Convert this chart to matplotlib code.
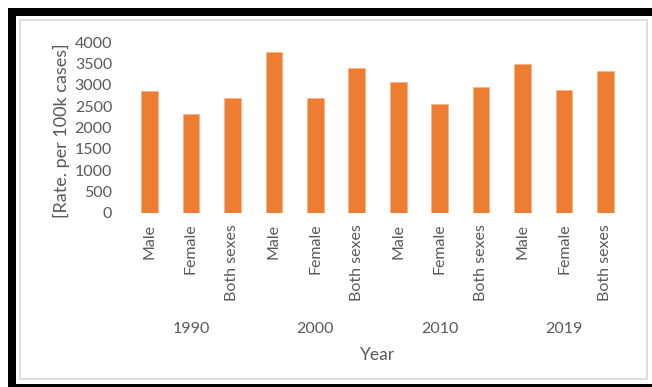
import matplotlib
matplotlib.use("Agg")
import matplotlib.pyplot as plt
import matplotlib.transforms as mtrans
from matplotlib.patches import Rectangle

# rates per 100k, grouped by year then sex
years = ["1990", "2000", "2010", "2019"]
sexes = ["Male", "Female", "Both sexes"]
rates = [
    [2860, 2320, 2700],   # 1990
    [3780, 2700, 3400],   # 2000
    [3075, 2545, 2950],   # 2010
    [3500, 2890, 3335],   # 2019
]

orange = "#ED7D31"
grey_text = "#595959"

plt.rcParams["font.family"] = ["Lato", "DejaVu Sans"]

W, H = 652, 387
fig = plt.figure(figsize=(W / 100, H / 100), dpi=100)
fig.patch.set_facecolor("white")


def px_rect(x0, y0, x1, y1, **kw):
    # rectangle given in pixel coords, origin top-left
    return Rectangle((x0 / W, 1 - y1 / H), (x1 - x0) / W, (y1 - y0) / H,
                     transform=fig.transFigure, **kw)


# black frame around the chart picture
fig.patches.append(px_rect(8, 8, 16, 387, facecolor="black", edgecolor="none"))
fig.patches.append(px_rect(8, 8, 652, 16, facecolor="black", edgecolor="none"))
fig.patches.append(px_rect(8, 384, 652, 387, facecolor="black", edgecolor="none"))
# light grey chart-area border
fig.patches.append(px_rect(20, 20, 647, 379, facecolor="none",
                           edgecolor="#d9d9d9", linewidth=1.2))

ax = fig.add_axes([128.8 / W, 1 - 212.7 / H, 497.4 / W, 170.4 / H])

labels = []
values = []
for yr, vals in zip(years, rates):
    for s, v in zip(sexes, vals):
        labels.append(s)
        values.append(v)
xs = list(range(len(values)))

ax.bar(xs, values, width=0.4, color=orange, edgecolor="#f5b48a", linewidth=0.6)

tick_fs = 11.5
ax.set_xlim(-0.5, len(values) - 0.5)
ax.set_ylim(0, 4000)
ax.set_yticks(range(0, 4001, 500))
ax.tick_params(axis="y", length=0, pad=12, labelsize=tick_fs, labelcolor=grey_text)
ax.set_xticks(xs)
ax.set_xticklabels(labels, rotation=90, fontsize=tick_fs, color=grey_text)
ax.tick_params(axis="x", length=0, pad=8)
for sp in ax.spines.values():
    sp.set_visible(False)

# year group labels under the sex labels
blend = mtrans.blended_transform_factory(ax.transData, ax.transAxes)
for i, yr in enumerate(years):
    ax.text(i * 3 + 1, -0.683, yr, transform=blend, ha="center", va="center",
            fontsize=tick_fs, color=grey_text)

ax.text(0.5, -0.835, "Year", transform=ax.transAxes, ha="center", va="center",
        fontsize=12.5, color=grey_text)

ax.set_ylabel("[Rate. per 100k cases]", fontsize=13, color=grey_text)
ax.yaxis.set_label_coords(-0.118, 0.48)

fig.savefig("out.png", dpi=100)
